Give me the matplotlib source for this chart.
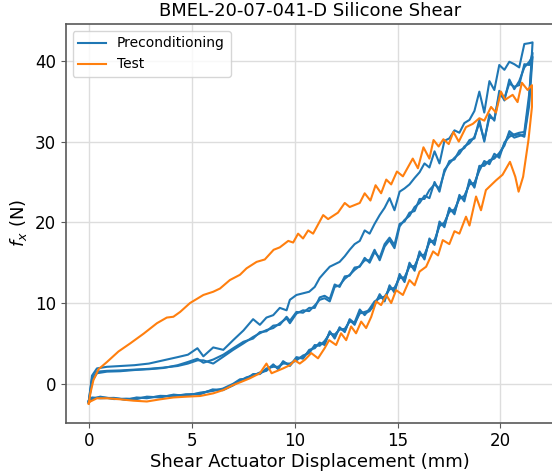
import numpy as np
import matplotlib.pyplot as plt

# Loading branch displacement (mm), shared by the preconditioning cycles
up_x = [-0.03, 0.13, 0.37, 0.86, 1.5, 2.2, 2.9, 3.6, 4.3, 4.8, 5.26, 5.55, 6.03, 6.52,
        7.0, 7.5, 7.97, 8.3, 8.62, 8.95, 9.27, 9.6, 9.76, 10.08, 10.4, 10.7,
        10.97, 11.21, 11.45, 11.7, 11.94, 12.18, 12.43, 12.67, 12.91, 13.16, 13.4, 13.64,
        13.88, 14.13, 14.37, 14.61, 14.85, 15.1, 15.34, 15.58, 15.83, 16.07, 16.31, 16.55,
        16.8, 17.04, 17.28, 17.52, 17.77, 18.01, 18.25, 18.5, 18.74, 18.98, 19.22, 19.47,
        19.71, 19.95, 20.2, 20.44, 20.68, 20.92, 21.17, 21.41, 21.57]

# Loading branch force (N) per preconditioning cycle
pre1_up = [-2.3, 1.0, 1.9, 2.1, 2.2, 2.3, 2.5, 2.9, 3.3, 3.6, 4.4, 3.4, 4.5, 4.2,
           5.4, 6.6, 8.0, 7.3, 8.2, 8.5, 9.4, 9.1, 10.4, 11.0, 11.2, 11.4,
           12.0, 13.1, 13.8, 14.5, 14.8, 15.1, 15.8, 16.6, 17.3, 17.7, 19.0, 18.6,
           19.8, 20.9, 21.8, 23.0, 21.5, 23.8, 24.2, 24.7, 25.5, 26.2, 27.3, 26.8,
           28.8, 27.3, 30.1, 30.4, 31.4, 31.1, 32.3, 32.7, 33.8, 36.2, 33.6, 37.5,
           36.4, 39.5, 38.9, 39.9, 39.6, 39.2, 42.1, 42.2, 42.3]
pre2_up = [-2.2, 0.6, 1.5, 1.6, 1.65, 1.75, 1.85, 2.0, 2.2, 2.5, 2.9, 2.9, 2.5, 3.35,
           4.2, 5.0, 5.8, 6.25, 6.65, 6.9, 7.5, 8.1, 7.5, 8.7, 9.1, 9.0,
           9.7, 10.4, 10.6, 10.2, 12.0, 12.2, 13.0, 13.5, 14.1, 14.6, 15.3, 15.3,
           16.6, 15.3, 17.0, 17.8, 16.8, 19.5, 20.3, 20.8, 21.9, 22.4, 23.3, 23.0,
           25.0, 23.8, 26.5, 27.3, 28.0, 28.5, 29.4, 29.8, 30.6, 32.3, 30.2, 33.0,
           32.8, 35.8, 35.4, 37.2, 36.8, 37.0, 39.6, 39.5, 41.0]
pre3_up = [-2.4, 0.3, 1.3, 1.5, 1.55, 1.7, 1.8, 1.95, 2.3, 2.7, 3.1, 2.6, 3.0, 3.6,
           4.4, 5.2, 5.6, 6.4, 6.5, 7.2, 7.3, 8.3, 7.8, 8.9, 8.8, 9.4,
           9.4, 10.7, 10.9, 10.5, 12.3, 12.0, 13.3, 13.4, 14.4, 14.5, 15.6, 15.0,
           16.3, 15.6, 17.3, 18.1, 17.2, 19.8, 20.1, 21.2, 21.4, 22.9, 22.9, 24.0,
           24.7, 24.2, 26.2, 27.6, 27.8, 28.9, 29.2, 30.2, 30.4, 32.7, 30.0, 33.4,
           32.6, 36.3, 35.1, 37.7, 36.5, 37.5, 39.2, 39.9, 40.5]

# Unloading branch displacement (mm)
low_x = [21.4, 21.17, 20.92, 20.68, 20.44, 20.2, 19.95, 19.71, 19.47, 19.22, 18.98,
         18.74, 18.5, 18.25, 18.01, 17.77, 17.52, 17.28, 17.04, 16.8, 16.55, 16.31,
         16.07, 15.83, 15.58, 15.34, 15.1, 14.85, 14.61, 14.37, 14.13, 13.88, 13.64,
         13.4, 13.16, 12.91, 12.67, 12.43, 12.18, 11.94, 11.7, 11.45, 11.21, 10.97,
         10.7, 10.4, 10.08, 9.76, 9.43, 9.19, 8.95, 8.62, 8.3, 7.97, 7.65, 7.33,
         7.0, 6.5, 6.0, 5.4, 4.7, 4.1, 3.45, 2.8, 2.3, 1.8, 1.2, 0.53, 0.13, -0.03]

pre1_low = [35.0, 30.9, 30.7, 30.5, 31.0, 29.7, 28.4, 28.1, 27.5, 27.3, 26.8,
            24.5, 25.0, 22.9, 23.2, 21.2, 21.6, 19.6, 19.8, 17.4, 17.8, 15.6,
            16.2, 14.2, 14.8, 12.8, 13.4, 11.5, 12.0, 10.4, 10.9, 9.9, 9.0,
            8.7, 8.9, 7.3, 7.9, 6.5, 6.9, 5.8, 6.4, 5.0, 4.9, 4.6,
            4.0, 3.3, 3.1, 2.3, 2.7, 1.9, 2.3, 1.7, 1.3, 1.1, 0.7, 0.45,
            -0.1, -0.7, -0.8, -1.2, -1.4, -1.45, -1.6, -1.7, -1.8, -1.95, -1.8, -1.7, -1.8, -2.2]
pre2_low = [35.8, 31.2, 31.1, 30.9, 30.6, 29.9, 28.0, 28.5, 27.2, 27.6, 26.4,
            24.9, 24.7, 23.3, 22.9, 21.6, 21.3, 20.0, 19.5, 17.8, 17.5, 16.0,
            15.9, 14.6, 14.5, 13.2, 13.1, 11.9, 11.7, 10.8, 10.6, 10.2, 9.3,
            8.5, 9.2, 7.6, 7.7, 6.8, 6.7, 6.1, 6.2, 5.3, 4.7, 4.8,
            3.8, 3.5, 2.9, 2.5, 2.5, 2.1, 2.1, 1.9, 1.2, 1.2, 0.6, 0.55,
            0.0, -0.6, -0.9, -1.1, -1.5, -1.35, -1.7, -1.6, -1.9, -1.85, -1.9, -1.6, -1.9, -2.3]
pre3_low = [34.4, 30.6, 30.9, 30.8, 31.3, 29.5, 28.6, 27.9, 27.7, 27.0, 27.0,
            24.3, 25.3, 22.6, 23.4, 21.0, 21.8, 19.4, 20.1, 17.2, 18.0, 15.4,
            16.4, 14.0, 15.0, 12.6, 13.6, 11.3, 12.2, 10.2, 11.1, 9.7, 9.1,
            8.9, 8.7, 7.5, 8.0, 6.4, 7.0, 5.6, 6.5, 4.8, 5.1, 4.4,
            4.2, 3.1, 3.3, 2.2, 2.8, 1.8, 2.4, 1.6, 1.4, 1.0, 0.8, 0.35,
            -0.2, -0.8, -0.7, -1.3, -1.3, -1.55, -1.5, -1.8, -1.7, -2.0, -1.75, -1.8, -1.7, -2.1]

# Test cycle, loading then unloading
test_up_x = [-0.03, 0.05, 0.2, 0.45, 0.86, 1.42, 1.99, 2.64, 3.29, 3.77, 4.09, 4.42, 4.9,
             5.55, 6.03, 6.36, 6.84, 7.33, 7.65, 8.14, 8.54, 8.97, 9.27, 9.68, 9.92, 10.16,
             10.4, 10.65, 10.89, 11.38, 11.62, 12.1, 12.43, 12.67, 13.16, 13.4, 13.68, 13.93,
             14.2, 14.45, 14.69, 14.97, 15.26, 15.74, 15.99, 16.26, 16.55, 16.75, 17.0, 17.23,
             17.49, 17.72, 17.98, 18.33, 18.66, 18.98, 19.22, 19.55, 19.79, 20.03, 20.24,
             20.6, 20.84, 21.05, 21.33, 21.54]
test_up_y = [-2.5, -1.2, 0.45, 1.8, 2.7, 4.0, 5.0, 6.2, 7.5, 8.2, 8.3, 8.9, 10.0,
             11.0, 11.4, 11.8, 12.85, 13.5, 14.3, 15.1, 15.4, 16.6, 16.9, 17.7, 17.5, 18.6,
             18.0, 19.0, 18.6, 20.9, 20.4, 21.2, 22.4, 21.9, 22.4, 23.6, 22.7, 24.6,
             23.6, 25.3, 24.7, 26.3, 25.7, 27.9, 26.7, 29.3, 27.9, 30.2, 29.4, 30.3,
             29.7, 31.2, 30.0, 31.8, 32.2, 32.9, 32.6, 34.3, 33.6, 36.2, 35.2,
             35.8, 34.9, 37.3, 36.4, 37.0]
test_low_x = [21.54, 21.37, 21.11, 20.89, 20.73, 20.47, 20.11, 19.79, 19.3, 19.06, 18.82,
              18.5, 18.33, 18.01, 17.77, 17.52, 17.2, 16.97, 16.73, 16.39, 16.07, 15.83,
              15.58, 15.26, 14.93, 14.69, 14.45, 14.2, 13.96, 13.72, 13.47, 13.23, 12.98,
              12.74, 12.5, 12.25, 12.01, 11.67, 11.45, 11.13, 10.8, 10.5, 10.24, 10.0, 9.76,
              9.43, 8.87, 8.62, 8.3, 7.81, 7.41, 7.0, 6.52, 6.03, 5.39, 4.74, 4.09, 3.45,
              2.8, 2.15, 1.5, 0.86, 0.37, 0.05, -0.03]
test_low_y = [34.3, 30.2, 25.65, 23.8, 25.65, 27.5, 25.9, 25.2, 24.0, 21.5, 23.2,
              19.6, 20.7, 18.6, 18.9, 17.3, 17.8, 15.9, 16.4, 14.5, 13.9, 12.2,
              12.85, 11.0, 11.6, 10.0, 11.0, 9.75, 10.2, 8.3, 6.9, 7.7, 6.25,
              7.1, 5.4, 6.25, 4.8, 5.4, 4.4, 3.15, 3.8, 3.0, 2.5, 2.9, 2.3,
              1.9, 1.3, 2.5, 1.3, 0.67, 0.25, -0.16, -0.78, -1.19, -1.52, -1.6, -1.7, -1.93,
              -2.2, -2.1, -1.93, -1.8, -1.8, -2.2, -2.4]

fig = plt.figure(figsize=(5.52, 4.73), dpi=100)
ax = fig.add_axes([0.119, 0.1063, 0.886, 0.843])

cycles = [(pre1_up, pre1_low), (pre2_up, pre2_low), (pre3_up, pre3_low)]
for i, (up, low) in enumerate(cycles):
    ax.plot(up_x + low_x, up + low, color='C0', lw=1.5,
            label='Preconditioning' if i == 0 else None)
ax.plot(test_up_x + test_low_x, test_up_y + test_low_y, color='C1', lw=1.5, label='Test')

ax.set_xlim(-1.15, 22.65)
ax.set_ylim(-4.83, 44.58)
ax.set_xticks([0, 5, 10, 15, 20])
ax.set_yticks([0, 10, 20, 30, 40])
ax.grid(True, color='#dddddd', lw=1)
ax.set_axisbelow(True)
for s in ax.spines.values():
    s.set_color('0.35')
    s.set_linewidth(1.2)
ax.tick_params(labelsize=12, color='0.35')

ax.set_title('BMEL-20-07-041-D Silicone Shear', fontsize=13)
ax.set_xlabel('Shear Actuator Displacement (mm)', fontsize=13, labelpad=2)
ax.set_ylabel('$f_x$ (N)', fontsize=13)
ax.legend(loc='upper left', fontsize=10)

fig.savefig('out.png', dpi=100)
